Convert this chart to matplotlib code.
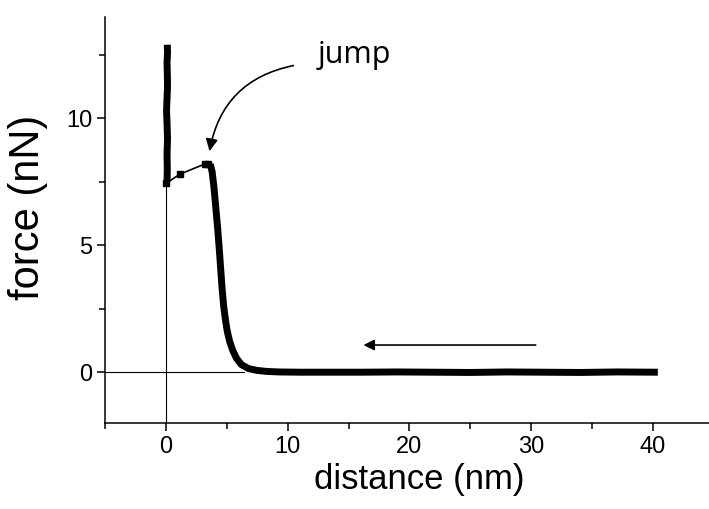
import matplotlib
matplotlib.use("Agg")
import matplotlib.pyplot as plt
from matplotlib.ticker import MultipleLocator

plt.rcParams['font.family'] = ['Liberation Sans', 'DejaVu Sans']

# approach curve (tip moving towards the surface, right to left)
approach_x = [40.4, 37, 34, 31, 28, 25, 22, 19, 16, 13, 11, 9.3, 8.3, 7.5,
              6.8, 6.2, 5.8, 5.5, 5.25, 5.05, 4.9, 4.75, 4.62, 4.5, 4.38,
              4.25, 4.1, 3.95, 3.8, 3.65]
approach_y = [0.0, 0.01, -0.01, 0.0, 0.01, -0.01, 0.0, 0.01, 0.0, 0.0, 0.0,
              0.01, 0.03, 0.07, 0.14, 0.3, 0.55, 0.85, 1.2, 1.6, 2.05, 2.6,
              3.3, 4.1, 4.9, 5.7, 6.5, 7.3, 7.9, 8.2]

# jump-to-contact points (sparse, thin line)
jump_x = [3.5, 3.2, 1.15, 0.05]
jump_y = [8.22, 8.2, 7.8, 7.45]

# contact region (steep rise at x ~ 0)
contact_x = [0.1, 0.12, 0.1, 0.14, 0.1, 0.06, 0.1, 0.14, 0.12, 0.1, 0.14, 0.12]
contact_y = [7.5, 8.0, 8.6, 9.2, 9.8, 10.3, 10.8, 11.3, 11.8, 12.2, 12.6, 12.9]

# guide lines
guide_vx = [0, 0]
guide_vy = [-2, 7.5]
guide_hx = [-5, 6.4]
guide_hy = [0, 0]

fig = plt.figure(figsize=(7.09, 5.09), dpi=100)
ax = fig.add_axes([0.148, 0.169, 0.852, 0.798])

ax.plot(guide_vx, guide_vy, color='k', lw=0.8)
ax.plot(guide_hx, guide_hy, color='k', lw=0.8)
ax.plot(jump_x, jump_y, color='k', lw=1.2, marker='s', markersize=4)
ax.plot(approach_x, approach_y, color='k', lw=5, solid_capstyle='butt',
        solid_joinstyle='round')
ax.plot(contact_x, contact_y, color='k', lw=5, solid_capstyle='butt',
        solid_joinstyle='round')

# arrows
ax.annotate('', xy=(3.55, 8.6), xytext=(10.7, 12.1),
            arrowprops=dict(arrowstyle='-|>', color='k', lw=1.2,
                            connectionstyle='arc3,rad=0.35',
                            mutation_scale=18))
ax.text(15.5, 12.5, 'jump', fontsize=22, family=['Open Sans', 'DejaVu Sans'],
        ha='center', va='center')
ax.annotate('', xy=(16.0, 1.07), xytext=(30.6, 1.07),
            arrowprops=dict(arrowstyle='-|>', color='k', lw=1.2,
                            mutation_scale=16))

ax.set_xlim(-5, 44.6)
ax.set_ylim(-2, 14)
ax.xaxis.set_minor_locator(MultipleLocator(5))
ax.yaxis.set_minor_locator(MultipleLocator(2.5))
ax.set_xticks([0, 10, 20, 30, 40])
ax.set_yticks([0, 5, 10])

for side in ['top', 'right']:
    ax.spines[side].set_visible(False)
for side in ['left', 'bottom']:
    ax.spines[side].set_linewidth(1.1)

ax.tick_params(which='major', direction='out', length=6, width=1.1,
               labelsize=17)
ax.tick_params(axis='y', which='major', pad=3)
ax.tick_params(which='minor', direction='out', length=4, width=1.1)

ax.set_xlabel('distance (nm)', fontsize=25, va='center', ha='center')
ax.set_ylabel('force (nN)', fontsize=30, va='center', ha='center')
ax.xaxis.set_label_coords(0.521, -0.14)
ax.yaxis.set_label_coords(-0.127, 0.532)

fig.savefig('out.png', dpi=100)
